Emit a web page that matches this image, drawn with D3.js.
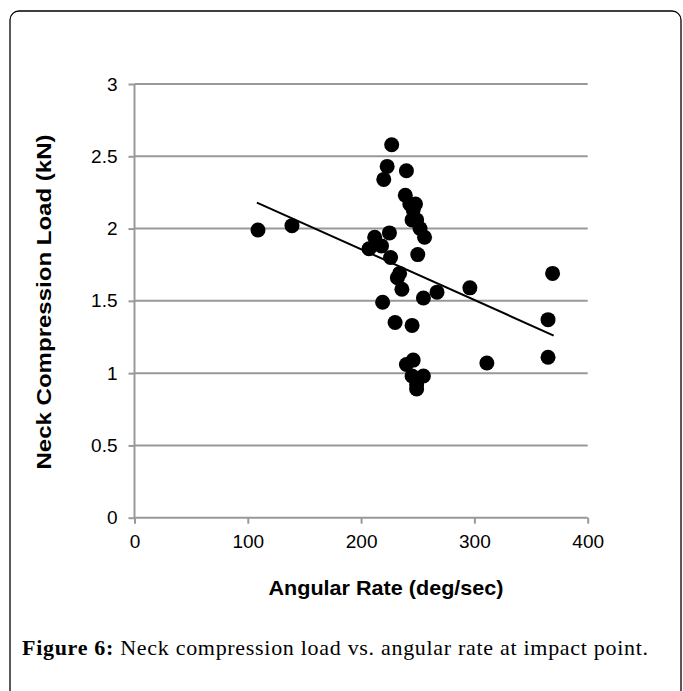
<!DOCTYPE html>
<html><head><meta charset="utf-8">
<script src="https://cdn.jsdelivr.net/npm/d3@7"></script>
<style>body{margin:0;background:#fff;}svg{display:block;}</style>
</head><body>
<svg id="c" width="683" height="691"></svg>
<script>
const angularRate = [109,139,227,223,220,240,239,243,248,246,245,249,252,256,250,225,212,207,218,226,234,232,236,219,230,245,255,267,296,240,246,245,255,249,249,311,365,365,369];
const neckLoad    = [1.99,2.02,2.58,2.43,2.34,2.40,2.23,2.17,2.17,2.13,2.06,2.06,2.00,1.94,1.82,1.97,1.94,1.86,1.88,1.80,1.69,1.66,1.58,1.49,1.35,1.33,1.52,1.56,1.59,1.06,1.09,0.98,0.98,0.92,0.89,1.07,1.37,1.11,1.69];
const trendX = [108, 370];
const trendY = [2.18, 1.26];
const xTicks = [0,100,200,300,400];
const yTicks = [0,0.5,1,1.5,2,2.5,3];
const xTitle = "Angular Rate (deg/sec)";
const yTitle = "Neck Compression Load (kN)";

const svg = d3.select("#c");
svg.append("rect").attr("x",10).attr("y",11).attr("width",671).attr("height",710)
  .attr("rx",9).attr("fill","none").attr("stroke","#000").attr("stroke-width",1.3);

const x = d3.scaleLinear().domain([0,400]).range([134.5,587.7]);
const y = d3.scaleLinear().domain([0,3]).range([517.7,84]);
const g = svg.append("g");

g.selectAll("line.grid").data(yTicks.filter(t=>t>0)).join("line")
  .attr("x1",x(0)).attr("x2",x(400)).attr("y1",d=>y(d)).attr("y2",d=>y(d))
  .attr("stroke","#999").attr("stroke-width",2);

const xAxis = g.append("g").attr("transform",`translate(0,${y(0)})`)
  .call(d3.axisBottom(x).tickValues(xTicks).tickSize(6).tickPadding(11).tickFormat(d3.format("d")));
const yAxis = g.append("g").attr("transform",`translate(${x(0)},0)`)
  .call(d3.axisLeft(y).tickValues(yTicks).tickSize(6).tickPadding(11).tickFormat(d=>String(d)));
[xAxis,yAxis].forEach(a=>{
  a.select(".domain").attr("stroke","#999").attr("stroke-width",2);
  a.selectAll(".tick line").attr("stroke","#999").attr("stroke-width",2);
  a.selectAll(".tick text").attr("fill","#000").style("font-family","'Liberation Sans',Arial,sans-serif").style("font-size","19px");
});
yAxis.select(".domain").attr("d",`M0,${y(0)}V${y(3)}`);
xAxis.select(".domain").attr("d",`M${x(0)},0H${x(400)}`);

g.selectAll("circle.pt").data(angularRate.map((d,i)=>[d,neckLoad[i]])).join("circle")
  .attr("cx",d=>x(d[0])).attr("cy",d=>y(d[1])).attr("r",7.5).attr("fill","#000");

g.append("line").attr("x1",x(trendX[0])).attr("y1",y(trendY[0]))
  .attr("x2",x(trendX[1])).attr("y2",y(trendY[1])).attr("stroke","#000").attr("stroke-width",2);

svg.append("text").attr("x",386).attr("y",595).attr("text-anchor","middle")
  .attr("textLength",235).attr("lengthAdjust","spacingAndGlyphs")
  .style("font-family","'Liberation Sans',Arial,sans-serif").style("font-size","21px").style("font-weight","bold")
  .text(xTitle);
svg.append("text").attr("transform","translate(51,302) rotate(-90)").attr("text-anchor","middle")
  .attr("textLength",335).attr("lengthAdjust","spacingAndGlyphs")
  .style("font-family","'Liberation Sans',Arial,sans-serif").style("font-size","21px").style("font-weight","bold")
  .text(yTitle);

const cap = svg.append("text").attr("x",22).attr("y",655).attr("textLength",626).attr("lengthAdjust","spacing")
  .style("font-family","'Liberation Serif','Times New Roman',serif").style("font-size","22px");
cap.append("tspan").style("font-weight","bold").text("Figure 6:");
cap.append("tspan").text(" Neck compression load vs. angular rate at impact point.");
</script>
</body></html>
